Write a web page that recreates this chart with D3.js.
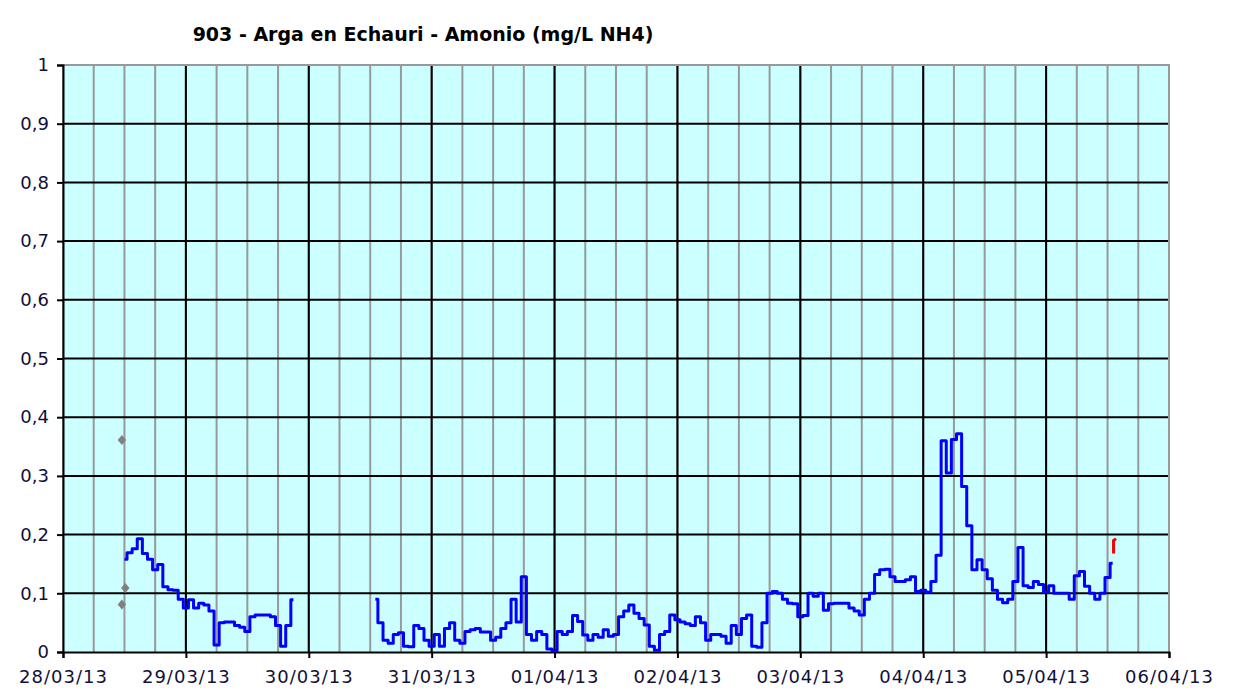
<!DOCTYPE html>
<html>
<head>
<meta charset="utf-8">
<script src="https://cdn.jsdelivr.net/npm/d3@7"></script>
<style>
  body { margin: 0; background: #fff; }
  .chart text { font-family: "DejaVu Sans", Verdana, sans-serif; }
</style>
</head>
<body>
<div class="chart"></div>
<script>
const title = "903 - Arga en Echauri - Amonio (mg/L NH4)";

const yTicks = [0, 0.1, 0.2, 0.3, 0.4, 0.5, 0.6, 0.7, 0.8, 0.9, 1];

// hourly readings, first block starts 28/03 12:00
const seg1Start = Date.UTC(2013, 2, 28, 12);
const seg1 = [0.158, 0.169, 0.176, 0.193, 0.168, 0.158, 0.14, 0.149, 0.111, 0.106, 0.105, 0.09,
  0.075, 0.089, 0.075, 0.083, 0.08, 0.07, 0.012, 0.05, 0.051, 0.051, 0.045, 0.042,
  0.035, 0.06, 0.063, 0.063, 0.063, 0.06, 0.045, 0.01, 0.045, 0.089];

// second block starts 30/03 13:00
const seg2Start = Date.UTC(2013, 2, 30, 13);
const seg2 = [
  0.09, 0.05, 0.02, 0.015, 0.03, 0.033, 0.01, 0.009, 0.045, 0.04, 0.02,
  0.01, 0.03, 0.01, 0.04, 0.05, 0.02, 0.015, 0.035, 0.038, 0.04, 0.034, 0.034,
  0.02, 0.025, 0.04, 0.05, 0.09, 0.051, 0.128, 0.03, 0.02, 0.035, 0.03, 0.005,
  0.002, 0.035, 0.03, 0.035, 0.062, 0.052, 0.029, 0.02, 0.03, 0.025, 0.038, 0.027,
  0.03, 0.06, 0.07, 0.08, 0.066, 0.057, 0.046, 0.01, 0.003, 0.03, 0.035, 0.063,
  0.055, 0.051, 0.048, 0.045, 0.06, 0.05, 0.02, 0.03, 0.03, 0.027, 0.015, 0.045,
  0.03, 0.057, 0.063, 0.01, 0.008, 0.05, 0.1, 0.103, 0.1, 0.09, 0.083, 0.082,
  0.06, 0.062, 0.1, 0.095, 0.1, 0.071, 0.082, 0.083, 0.083, 0.083, 0.075, 0.07,
  0.063, 0.09, 0.1, 0.132, 0.14, 0.141, 0.128, 0.12, 0.12, 0.123, 0.128, 0.103,
  0.105, 0.102, 0.12, 0.165, 0.36, 0.305, 0.362, 0.372, 0.282, 0.215, 0.14, 0.157,
  0.14, 0.125, 0.105, 0.09, 0.084, 0.09, 0.12, 0.178, 0.113, 0.11, 0.12, 0.115,
  0.102, 0.113, 0.1, 0.1, 0.1, 0.09, 0.13, 0.137, 0.112, 0.1, 0.09, 0.1,
  0.127, 0.151];

const greyTimes = [Date.UTC(2013, 2, 28, 11, 30), Date.UTC(2013, 2, 28, 12, 10), Date.UTC(2013, 2, 28, 11, 30)];
const greyValues = [0.361, 0.109, 0.081];

const redTimes = [Date.UTC(2013, 3, 5, 13, 10), Date.UTC(2013, 3, 5, 13, 10), Date.UTC(2013, 3, 5, 13, 40)];
const redValues = [0.168, 0.19, 0.193];

let margin = { top: 65, right: 77, bottom: 36, left: 63 },
    width = 1246 - margin.left - margin.right,
    height = 688 - margin.top - margin.bottom;

let x = d3.scaleUtc()
    .domain([new Date(Date.UTC(2013, 2, 28)), new Date(Date.UTC(2013, 3, 6))])
    .range([0, width]);
let y = d3.scaleLinear().domain([0, 1]).range([height, 0]);

let locale = d3.formatLocale({ decimal: ",", thousands: ".", grouping: [3], currency: ["", "€"] });
let fmtY = locale.format("~g");
let fmtX = d3.utcFormat("%d/%m/%y");

let svg = d3.select(".chart").append("svg")
    .attr("width", 1246)
    .attr("height", 688);

svg.append("text")
    .attr("x", 423)
    .attr("y", 41)
    .attr("text-anchor", "middle")
    .style("font-size", "19px")
    .style("font-weight", "bold")
    .attr("fill", "#000")
    .text(title);

let g = svg.append("g")
    .attr("transform", "translate(" + margin.left + "," + margin.top + ")");

g.append("rect")
    .attr("width", width)
    .attr("height", height)
    .attr("fill", "#ccffff");

// 6 hour grid
g.append("g")
    .selectAll("line")
    .data(x.ticks(d3.utcHour.every(6)))
    .enter().append("line")
    .attr("x1", d => x(d)).attr("x2", d => x(d))
    .attr("y1", 0).attr("y2", height)
    .attr("stroke", "#999")
    .attr("stroke-width", 2);

g.append("g")
    .selectAll("line")
    .data(yTicks.slice(1, -1))
    .enter().append("line")
    .attr("x1", 0).attr("x2", width)
    .attr("y1", d => y(d)).attr("y2", d => y(d))
    .attr("stroke", "#000")
    .attr("stroke-width", 2);

let days = x.ticks(d3.utcDay.every(1));

g.append("g")
    .selectAll("line")
    .data(days.slice(1, -1))
    .enter().append("line")
    .attr("x1", d => x(d)).attr("x2", d => x(d))
    .attr("y1", 0).attr("y2", height)
    .attr("stroke", "#000")
    .attr("stroke-width", 2);

// plot border
g.append("path")
    .attr("d", "M0,0H" + width + "V" + height)
    .attr("fill", "none")
    .attr("stroke", "#999")
    .attr("stroke-width", 2);

let yAxis = d3.axisLeft(y).tickValues(yTicks).tickSize(6).tickPadding(8).tickFormat(fmtY);
let xAxis = d3.axisBottom(x).tickValues(days).tickSize(6).tickPadding(12).tickFormat(fmtX);

let ya = g.append("g").call(yAxis);
let xa = g.append("g").attr("transform", "translate(0," + height + ")").call(xAxis);

[ya, xa].forEach(a => {
    a.select(".domain").attr("stroke", "#000").attr("stroke-width", 2);
    a.selectAll(".tick line").attr("stroke", "#000").attr("stroke-width", 2);
    a.selectAll(".tick text")
        .attr("fill", "#10103a")
        .style("font-size", "18px")
        .style("font-family", "'DejaVu Sans', Verdana, sans-serif");
});
xa.selectAll(".tick text").style("letter-spacing", "1px");

let line = d3.line()
    .x(d => x(d[0]))
    .y(d => y(d[1]))
    .curve(d3.curveStep);

[[seg1Start, seg1], [seg2Start, seg2]].forEach(([start, vals]) => {
    let pts = vals.map((v, i) => [new Date(start + i * 3600000), v]);
    g.append("path")
        .datum(pts)
        .attr("d", line)
        .attr("fill", "none")
        .attr("stroke", "#0000ff")
        .attr("stroke-width", 3)
        .attr("stroke-linejoin", "round");
});

g.append("path")
    .datum(redTimes.map((t, i) => [new Date(t), redValues[i]]))
    .attr("d", d3.line().x(d => x(d[0])).y(d => y(d[1])))
    .attr("fill", "none")
    .attr("stroke", "#ff0000")
    .attr("stroke-width", 3);

g.append("g")
    .selectAll("path")
    .data(greyTimes.map((t, i) => [new Date(t), greyValues[i]]))
    .enter().append("path")
    .attr("d", d3.symbol(d3.symbolDiamond, 36))
    .attr("transform", d => "translate(" + x(d[0]) + "," + y(d[1]) + ") scale(1.3,0.9)")
    .attr("fill", "#808080");
</script>
</body>
</html>
